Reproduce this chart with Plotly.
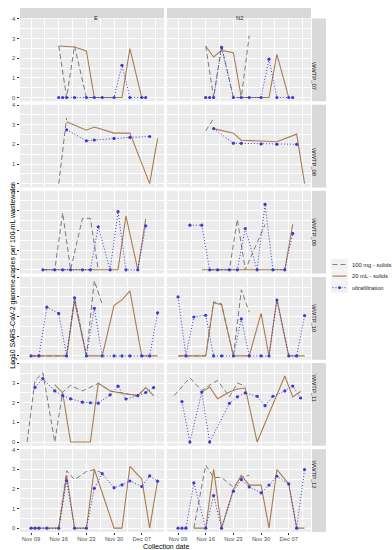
import plotly.graph_objects as go

W, H = 392, 550

wwtps = ["WWTP_07", "WWTP_08", "WWTP_09", "WWTP_10", "WWTP_11", "WWTP_12"]
targets = ["E", "N2"]
methods = ["100 mg - solids", "20 mL - solids", "ultrafiltration"]
x_tickvals = ["2020-11-09", "2020-11-16", "2020-11-23", "2020-11-30", "2020-12-07"]
x_ticktext = ["Nov 09", "Nov 16", "Nov 23", "Nov 30", "Dec 07"]
y_tickvals = [0, 1, 2, 3, 4]

# ---------------- WWTP_07 ----------------
dates_07 = ["2020-11-16", "2020-11-17", "2020-11-18", "2020-11-20", "2020-11-23", "2020-11-25",
            "2020-11-27", "2020-11-30", "2020-12-02", "2020-12-04", "2020-12-07", "2020-12-08"]
e_100mg_07 = [2.62, None, 0, 2.62, 0, 0, 0, None, None, None, None, None]
e_20ml_07 = [2.62, None, 2.6, 2.57, 2.37, 0, 0, 0, 0, 2.49, 0, None]
e_uf_07 = [0, 0, 0, 0, 0, 0, 0, 0, 1.64, 0, 0, 0]
n2_100mg_07 = [2.62, None, 0, 2.62, 0, 0, 3.15, None, None, None, None, None]
n2_20ml_07 = [2.62, None, 2.06, 2.4, 2.28, 0, 0, 0, 0, 2.2, 0, None]
n2_uf_07 = [0, 0, 0, 2.55, 0, 0, 0, 0, 1.95, 0, 0, 0]

# ---------------- WWTP_08 ----------------
dates_08 = ["2020-11-16", "2020-11-18", "2020-11-23", "2020-11-25", "2020-11-30", "2020-12-04",
            "2020-12-09", "2020-12-11"]
e_100mg_08 = [0, 3.35, None, None, None, None, None, None]
e_20ml_08 = [None, 3.15, 2.72, 2.88, 2.57, 2.57, 0, 2.3]
e_uf_08 = [None, 2.74, 2.18, 2.22, 2.3, 2.35, 2.4, None]
n2_100mg_08 = [2.69, 3.32, None, None, None, None, None, None]
n2_20ml_08 = [None, 2.8, 2.57, 2.21, 2.15, 2.13, 2.52, 0]
n2_uf_08 = [None, 2.8, 2.06, 2.05, 2.02, 2.0, 2.0, None]

# ---------------- WWTP_09 ----------------
dates_09 = ["2020-11-12", "2020-11-15", "2020-11-17", "2020-11-19", "2020-11-22", "2020-11-24",
            "2020-11-26", "2020-11-29", "2020-12-01", "2020-12-03", "2020-12-06", "2020-12-08"]
e_100mg_09 = [0, 0, 2.9, 0, 2.62, 2.62, 0, None, None, None, None, None]
e_20ml_09 = [0, 0, 0, 0, 0, 0, 0, 0, 0, 2.74, 0, 2.59]
e_uf_09 = [0, 0, 0, 0, 0, 0, 2.19, 0, 2.96, 0, 0, 2.23]
n2_100mg_09 = [None, None, 0, 0, 0, 2.57, 0, None, 2.3, None, None, None]
n2_20ml_09 = [None, 0, 0, 0, 0, 0, 0, 0, 0, 0, 0, 2.31]
n2_uf_09 = [2.27, 2.27, 0, 0, 0, 0, 2.1, 0, 3.33, 0, 0, 1.85]

# ---------------- WWTP_10 ----------------
dates_10 = ["2020-11-09", "2020-11-11", "2020-11-13", "2020-11-16", "2020-11-18", "2020-11-20",
            "2020-11-23", "2020-11-25", "2020-11-27", "2020-11-30", "2020-12-02", "2020-12-04",
            "2020-12-07", "2020-12-09", "2020-12-11"]
e_100mg_10 = [0, 0, 0, 0, 0, 2.96, 0, 3.83, 2.62, None, None, None, None, None, None]
e_20ml_10 = [0, 0, 0, 0, 0, 2.8, 0, 0, 0, 2.57, 2.85, 3.31, 0, 0, 0]
e_uf_10 = [0, 0, 2.48, 2.16, 0, 2.96, 0, 2.42, 0, 0, 0, 0, 0, 0, 2.19]
n2_100mg_10 = [0, 0, 0, 0, 2.75, 2.65, 0, 3.36, 2.24, None, None, None, None, None, None]
n2_20ml_10 = [0, 0, 0, 0, 2.7, 2.6, 0, 0, 0, 2.16, 0, 2.9, 0, 0, 0]
n2_uf_10 = [3.0, 0, 1.98, 2.07, 0, 0, 0, 1.88, 0, 0, 0, 2.84, 0, 0, 2.05]

# ---------------- WWTP_11 ----------------
dates_11 = ["2020-11-08", "2020-11-10", "2020-11-12", "2020-11-15", "2020-11-17", "2020-11-19",
            "2020-11-22", "2020-11-24", "2020-11-26", "2020-11-29", "2020-12-01", "2020-12-03",
            "2020-12-06", "2020-12-08", "2020-12-10"]
e_100mg_11 = [0, 3.13, 3.52, 0, 2.54, 2.88, 2.6, 2.78, 2.98, 2.6, 2.52, 2.45, 2.36, 2.77, 2.36]
e_20ml_11 = [None, None, None, 2.92, 2.5, 0, 0, 0, 3.0, 2.6, 2.52, 2.45, 2.36, 2.77, 2.36]
e_uf_11 = [None, 2.78, 3.23, 2.6, 2.36, 2.2, 2.03, 2.0, 1.98, 2.4, 2.84, 2.19, 2.36, 2.52, 2.77]
n2_100mg_11 = [2.36, None, 3.27, 2.62, 2.9, 3.13, 2.3, 3.0, 2.85, None, None, None, None, None, None]
n2_20ml_11 = [None, None, None, 2.54, 2.8, 2.2, 2.55, 2.7, 2.75, 0, None, None, 3.36, 2.3, 2.57]
n2_uf_11 = [None, 2.06, 0, 2.54, 0, None, 1.97, 2.3, 2.5, 2.33, 1.85, 2.33, 2.6, 2.85, 2.24]

# ---------------- WWTP_12 ----------------
dates_12 = ["2020-11-09", "2020-11-10", "2020-11-11", "2020-11-13", "2020-11-16", "2020-11-18",
            "2020-11-20", "2020-11-23", "2020-11-25", "2020-11-27", "2020-11-30", "2020-12-02",
            "2020-12-04", "2020-12-07", "2020-12-09", "2020-12-11"]
e_100mg_12 = [None, None, None, None, 0, 2.92, 2.47, 2.88, 2.98, 2.8, None, None, None, None, None, None]
e_20ml_12 = [0, 0, 0, 0, 0, 2.7, 0, 0, 3.0, None, 0, 0, 3.14, 2.5, 0, 2.4]
e_uf_12 = [0, 0, 0, 0, 0, 2.41, 0, 0, 2.03, 2.77, 2.06, 2.2, 2.4, 2.12, 2.66, 2.39]
n2_100mg_12 = [None, None, None, 0, 3.2, 2.58, 2.58, 2.08, 2.58, 2.69, None, None, None, None, None, None]
n2_20ml_12 = [None, None, None, 0, 0, 3.0, 0, 1.97, 2.69, 2.19, 2.19, 0, 2.98, 2.25, 0, 0]
n2_uf_12 = [0, 0, 0, 2.3, 0, 1.66, 0, 1.88, 2.47, 2.1, 1.8, 2.19, 2.64, 2.25, 0, 2.98]

data = {
    "WWTP_07": (dates_07, {"E": (e_100mg_07, e_20ml_07, e_uf_07), "N2": (n2_100mg_07, n2_20ml_07, n2_uf_07)}),
    "WWTP_08": (dates_08, {"E": (e_100mg_08, e_20ml_08, e_uf_08), "N2": (n2_100mg_08, n2_20ml_08, n2_uf_08)}),
    "WWTP_09": (dates_09, {"E": (e_100mg_09, e_20ml_09, e_uf_09), "N2": (n2_100mg_09, n2_20ml_09, n2_uf_09)}),
    "WWTP_10": (dates_10, {"E": (e_100mg_10, e_20ml_10, e_uf_10), "N2": (n2_100mg_10, n2_20ml_10, n2_uf_10)}),
    "WWTP_11": (dates_11, {"E": (e_100mg_11, e_20ml_11, e_uf_11), "N2": (n2_100mg_11, n2_20ml_11, n2_uf_11)}),
    "WWTP_12": (dates_12, {"E": (e_100mg_12, e_20ml_12, e_uf_12), "N2": (n2_100mg_12, n2_20ml_12, n2_uf_12)}),
}

# ---------------- styling ----------------
FONT = "Liberation Sans, Arial, sans-serif"
C_GREY = "#7a7a7a"
C_BROWN = "#a97c50"
C_BLUE = "#3b3bd2"
styles = [
    dict(mode="lines", line=dict(color=C_GREY, width=1, dash="5px,3px")),
    dict(mode="lines", line=dict(color=C_BROWN, width=1.1)),
    dict(mode="lines+markers", line=dict(color=C_BLUE, width=1, dash="1px,2px"),
         marker=dict(color=C_BLUE, size=3.2)),
]

# geometry (pixels)
col_x = [(20, 164), (167, 311)]
row_top0, row_pitch, row_h = 15.6, 86.6, 83.2
strip_top_y = (5, 15.2)
strip_right_x = (312, 326)


def fx(px):
    return px / W


def fy(py):
    return 1 - py / H


x_range = ["2020-11-06 05:00", "2020-12-12 15:00"]
y_range = [-0.19, 4.02]
minor_x = ["2020-11-05 12:00", "2020-11-12 12:00", "2020-11-19 12:00", "2020-11-26 12:00",
           "2020-12-03 12:00", "2020-12-10 12:00"]

fig = go.Figure()
layout = dict(
    width=W, height=H, autosize=False,
    margin=dict(l=0, r=0, t=0, b=0),
    paper_bgcolor="white", plot_bgcolor="#EBEBEB",
    showlegend=False,
    font=dict(family=FONT, color="#1a1a1a"),
)
shapes = []
annotations = []

for r, w in enumerate(wwtps):
    top = row_top0 + r * row_pitch
    bot = top + row_h
    dates, series = data[w]
    for c, t in enumerate(targets):
        idx = r * 2 + c
        sfx = "" if idx == 0 else str(idx + 1)
        xa = dict(
            domain=[fx(col_x[c][0]), fx(col_x[c][1])], anchor="y" + sfx,
            type="date", range=x_range, tickvals=x_tickvals, ticktext=x_ticktext,
            showgrid=True, gridcolor="white", gridwidth=1, zeroline=False,
            minor=dict(tickvals=minor_x, showgrid=True, gridcolor="white", gridwidth=0.5),
            showticklabels=(r == 5), ticks="outside" if r == 5 else "",
            ticklen=2.2, tickcolor="#333333", tickwidth=0.8, ticklabelstandoff=-1,
            tickfont=dict(size=5.8, color="#4d4d4d", family=FONT),
            showline=False, fixedrange=True,
        )
        ya = dict(
            domain=[fy(bot), fy(top)], anchor="x" + sfx,
            range=y_range, tickvals=y_tickvals,
            showgrid=True, gridcolor="white", gridwidth=1, zeroline=False,
            minor=dict(tickvals=[0.5, 1.5, 2.5, 3.5], showgrid=True, gridcolor="white", gridwidth=0.5),
            showticklabels=(c == 0), ticks="outside" if c == 0 else "",
            ticklen=2.5, tickcolor="#333333", tickwidth=0.8,
            tickfont=dict(size=5.8, color="#4d4d4d", family=FONT),
            showline=False, fixedrange=True,
        )
        layout["xaxis" + sfx] = xa
        layout["yaxis" + sfx] = ya
        for m, vals, st in zip(methods, series[t], styles):
            fig.add_trace(go.Scatter(
                x=dates, y=vals, name=m, connectgaps=True,
                xaxis="x" + sfx, yaxis="y" + sfx, hoverinfo="skip", **st))
    # right strip
    shapes.append(dict(type="rect", xref="paper", yref="paper",
                       x0=fx(strip_right_x[0]), x1=fx(strip_right_x[1]), y0=fy(bot), y1=fy(top),
                       fillcolor="#D9D9D9", line=dict(width=0), layer="below"))
    annotations.append(dict(xref="paper", yref="paper",
                            x=fx(sum(strip_right_x) / 2), y=fy((top + bot) / 2),
                            text=w, textangle=90, showarrow=False,
                            font=dict(size=5.8, color="#1a1a1a", family=FONT)))

# top strips
for c, t in enumerate(targets):
    shapes.append(dict(type="rect", xref="paper", yref="paper",
                       x0=fx(col_x[c][0]), x1=fx(col_x[c][1]), y0=fy(strip_top_y[1]), y1=fy(strip_top_y[0]),
                       fillcolor="#D9D9D9", line=dict(width=0), layer="below"))
    annotations.append(dict(xref="paper", yref="paper",
                            x=fx(sum(col_x[c]) / 2), y=fy(sum(strip_top_y) / 2),
                            text=t, showarrow=False,
                            font=dict(size=5.8, color="#1a1a1a", family=FONT)))

# axis titles
panels_top = row_top0
panels_bot = row_top0 + 5 * row_pitch + row_h
annotations.append(dict(xref="paper", yref="paper", x=fx(7.5), y=fy((panels_top + panels_bot) / 2),
                        text="Log10 SARS-CoV-2 genome copies per 100 mL wastewater",
                        textangle=-90, showarrow=False, font=dict(size=7, color="black", family=FONT)))
annotations.append(dict(xref="paper", yref="paper", x=fx((col_x[0][0] + col_x[1][1]) / 2), y=fy(546.5),
                        yanchor="middle",
                        text="Collection date", showarrow=False,
                        font=dict(size=7, color="black", family=FONT)))

# legend (keys + labels)
leg_y = [263, 274.6, 286.2]
kx0, kx1 = 331, 348
for i, (m, st) in enumerate(zip(methods, styles)):
    yc = leg_y[i]
    shapes.append(dict(type="rect", xref="paper", yref="paper",
                       x0=fx(kx0), x1=fx(kx1), y0=fy(yc + 5.6), y1=fy(yc - 5.6),
                       fillcolor="#F2F2F2", line=dict(width=0)))
    shapes.append(dict(type="line", xref="paper", yref="paper",
                       x0=fx(kx0 + 1.5), x1=fx(kx1 - 1.5), y0=fy(yc), y1=fy(yc),
                       line=dict(color=st["line"]["color"], width=st["line"]["width"],
                                 dash=st["line"].get("dash", "solid"))))
    if "marker" in st:
        cx = (kx0 + kx1) / 2
        shapes.append(dict(type="circle", xref="paper", yref="paper",
                           x0=fx(cx - 1.5), x1=fx(cx + 1.5), y0=fy(yc + 1.5), y1=fy(yc - 1.5),
                           fillcolor=C_BLUE, line=dict(width=0)))
    annotations.append(dict(xref="paper", yref="paper", x=fx(kx1 + 2), y=fy(yc),
                            xanchor="left", text=m, showarrow=False,
                            font=dict(size=5.8, color="#1a1a1a", family=FONT)))

layout["shapes"] = shapes
layout["annotations"] = annotations
fig.update_layout(**layout)
fig.write_html("out.html", config={"displayModeBar": False},
               post_script="document.body.style.margin='0';document.body.style.overflow='hidden';")
